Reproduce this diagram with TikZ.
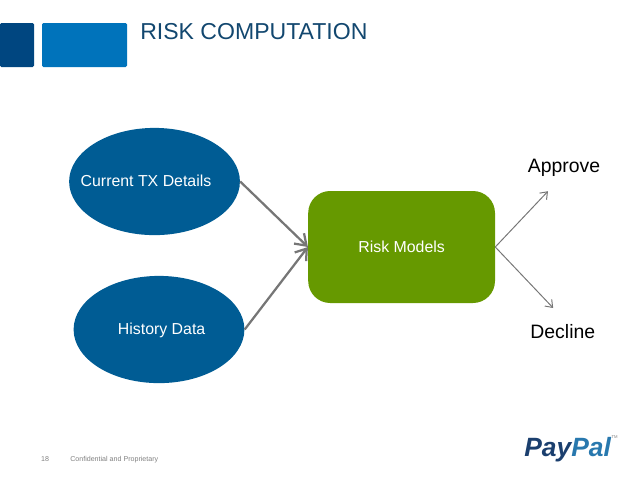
\documentclass[tikz,border=0pt]{standalone}
\usepackage{fontspec}
\setmainfont{Liberation Sans}
\usetikzlibrary{arrows.meta, positioning, shapes.geometric}
\definecolor{oval-fill}{HTML}{005C94}
\definecolor{risk-fill}{HTML}{669900}
\definecolor{title-color}{HTML}{12476F}
\definecolor{tab-dark}{HTML}{004680}
\definecolor{tab-light}{HTML}{0073BB}
\definecolor{flow-color}{HTML}{767676}
\definecolor{foot-color}{HTML}{808080}
\definecolor{pay-color}{HTML}{1B3F6E}
\definecolor{pal-color}{HTML}{2878AE}
\tikzset{
  oval-node/.style={
    ellipse, fill=oval-fill, minimum width=4.27cm, minimum height=2.68cm, inner sep=0pt
  },
  risk-node/.style={
    fill=risk-fill, rounded corners=0.55cm,
    minimum width=4.67cm, minimum height=2.8cm, text=white, font=\fontsize{11.3}{13}\selectfont
  },
  oval-text/.style={text=white, inner sep=0pt, font=\fontsize{11.3}{13}\selectfont},
  tab-node/.style={rounded corners=1pt, minimum height=1.1cm, inner sep=0pt},
  outcome/.style={text=black, inner sep=0pt, font=\fontsize{13.8}{16}\selectfont},
  foot-text/.style={text=foot-color, inner sep=0pt, anchor=west, font=\fontsize{5.05}{7}\selectfont},
  flow/.style={-{Straight Barb[length=2.6mm,width=3.6mm]}, line width=1.6pt, draw=flow-color},
  thin-flow/.style={-{Straight Barb[length=1.6mm,width=2.4mm]}, line width=0.7pt, draw=flow-color}
}
\begin{document}
\begin{tikzpicture}
  \useasboundingbox (0, 0) rectangle (15.95, -11.975);
  \node[tab-node, fill=tab-dark, minimum width=0.85cm]  (tabdark)  at (0.425, -1.125) {};
  \node[tab-node, fill=tab-light, minimum width=2.125cm] (tablight) at (2.113, -1.125) {};
  \node[inner sep=0pt, anchor=west, text=title-color, font=\fontsize{16.4}{20}\selectfont] (title) at (3.5, -0.8) {RISK COMPUTATION};

  \node[oval-node] (current) at (3.863, -4.538) {};
  \node[oval-text] (currenttext) at (3.65, -4.53) {Current TX Details};
  \node[oval-node] (history) at (3.975, -8.238) {};
  \node[oval-text] (historytext) at (4.04, -8.27) {History Data};
  \node[risk-node] (risk) at (10.04, -6.175) {Risk Models};

  \coordinate (approveend) at (13.7, -4.78);
  \coordinate (declineend) at (13.83, -7.7);
  \node[outcome] (approve) at (14.1, -4.2) {Approve};
  \node[outcome] (decline) at (14.07, -8.3) {Decline};

  \draw[flow] (current.east) -- (risk.west);
  \draw[flow] (history.east) -- (risk.west);
  \draw[thin-flow] (risk.east) -- (approveend);
  \draw[thin-flow] (risk.east) -- (declineend);

  \node[foot-text] (pagenum) at (1.02, -11.48) {18};
  \node[foot-text] (confidential) at (1.75, -11.48) {Confidential and Proprietary};
  \node[inner sep=0pt, anchor=west, font=\fontsize{18.8}{22}\bfseries\itshape\selectfont] (logo) at (13.1, -11.25)
    {\textcolor{pay-color}{Pay}\textcolor{pal-color}{Pal}};
  \node[inner sep=0pt, anchor=west, text=foot-color, font=\fontsize{3}{4}\selectfont] (logotm) at (logo.north east) {TM};
\end{tikzpicture}
\end{document}
